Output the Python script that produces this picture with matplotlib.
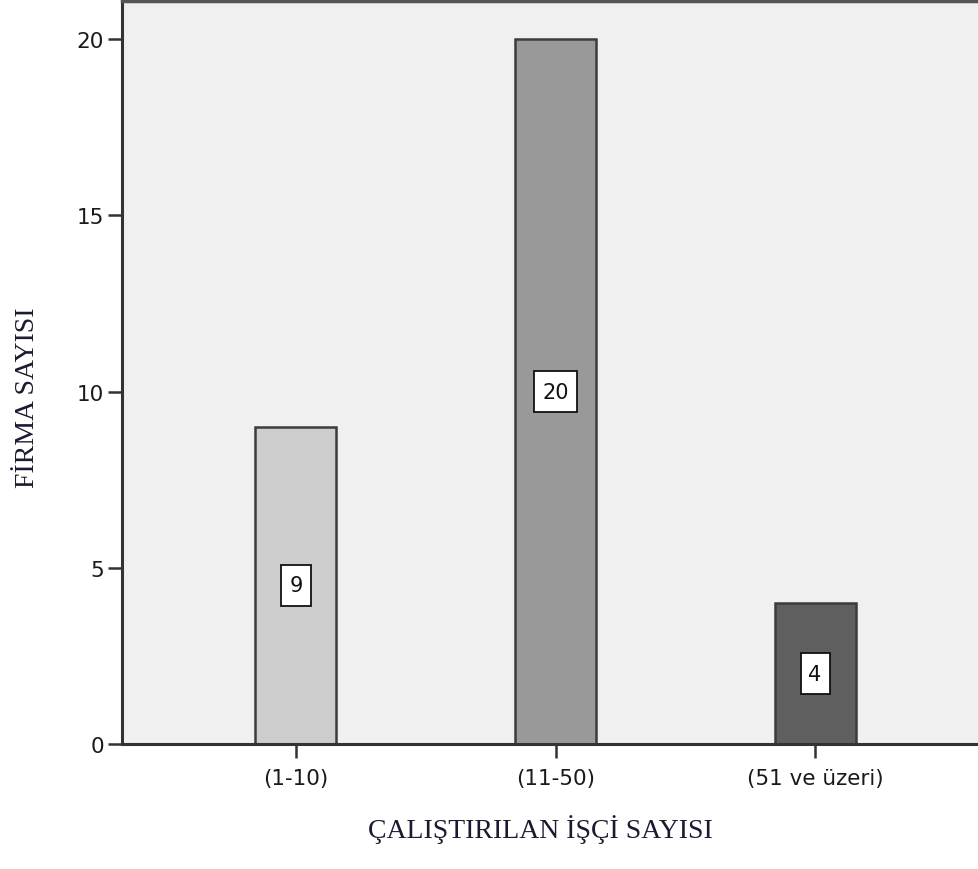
import matplotlib
matplotlib.use("Agg")
import matplotlib.pyplot as plt
from matplotlib.path import Path

categories = ["(1-10)", "(11-50)", "(51 ve üzeri)"]
counts = [9, 20, 4]
bar_colors = ["#cdcdcd", "#999999", "#5f5f5f"]
y_ticks = [0, 5, 10, 15, 20]
x_title = "ÇALIŞTIRILAN İŞÇİ SAYISI"
y_title = "FİRMA SAYISI"


def tall_box(x0, y0, width, height, mutation_size):
    """Square label box with more room above and below than at the sides."""
    px, py = 0.38 * mutation_size, 0.52 * mutation_size
    xa, ya = x0 - px, y0 - py
    xb, yb = x0 + width + px, y0 + height + py
    return Path([(xa, ya), (xb, ya), (xb, yb), (xa, yb), (xa, ya)], closed=True)


W, H = 979, 870
fig = plt.figure(figsize=(W / 100, H / 100), dpi=100)
fig.patch.set_facecolor("white")

left, right, top, bottom = 122, 989, 2, 745
ax = fig.add_axes([left / W, (H - bottom) / H, (right - left) / W, (bottom - top) / H])
ax.set_facecolor("#f0f0f0")

x = list(range(len(categories)))
ax.bar(x, counts, width=0.312, color=bar_colors, edgecolor="#3c3c3c", linewidth=1.8, zorder=2)

for xi, v in zip(x, counts):
    ax.text(xi, v / 2, str(v), ha="center", va="center", fontsize=15,
            family="DejaVu Sans", color="#111111", zorder=3,
            bbox=dict(boxstyle=tall_box, facecolor="white", edgecolor="#111111", linewidth=1.3))

ax.set_xlim(-0.67, 2.67)
ax.set_ylim(0, 21.08)
ax.set_xticks(x)
ax.set_xticklabels(categories)
ax.set_yticks(y_ticks)
ax.set_yticklabels([str(t) for t in y_ticks])
ax.tick_params(axis="both", direction="out", length=10, width=1.8, color="#333333",
               labelsize=15.5, labelcolor="#1a1a1a", pad=3)
ax.tick_params(axis="x", pad=7)
for lab in ax.get_xticklabels() + ax.get_yticklabels():
    lab.set_family("DejaVu Sans")

for side in ["left", "bottom"]:
    ax.spines[side].set_color("#333333")
    ax.spines[side].set_linewidth(2.2)
ax.spines["top"].set_color("#555555")
ax.spines["top"].set_linewidth(2.5)
ax.spines["right"].set_visible(False)

fig.text(540 / W, 1 - 830 / H, x_title, ha="center", va="center",
         family="Liberation Serif", fontsize=20, color="#1a1a30")
fig.text(28 / W, 1 - 398 / H, y_title, ha="center", va="center", rotation=90,
         family="Liberation Serif", fontsize=20, color="#1a1a30")

fig.savefig("out.png", dpi=100)
